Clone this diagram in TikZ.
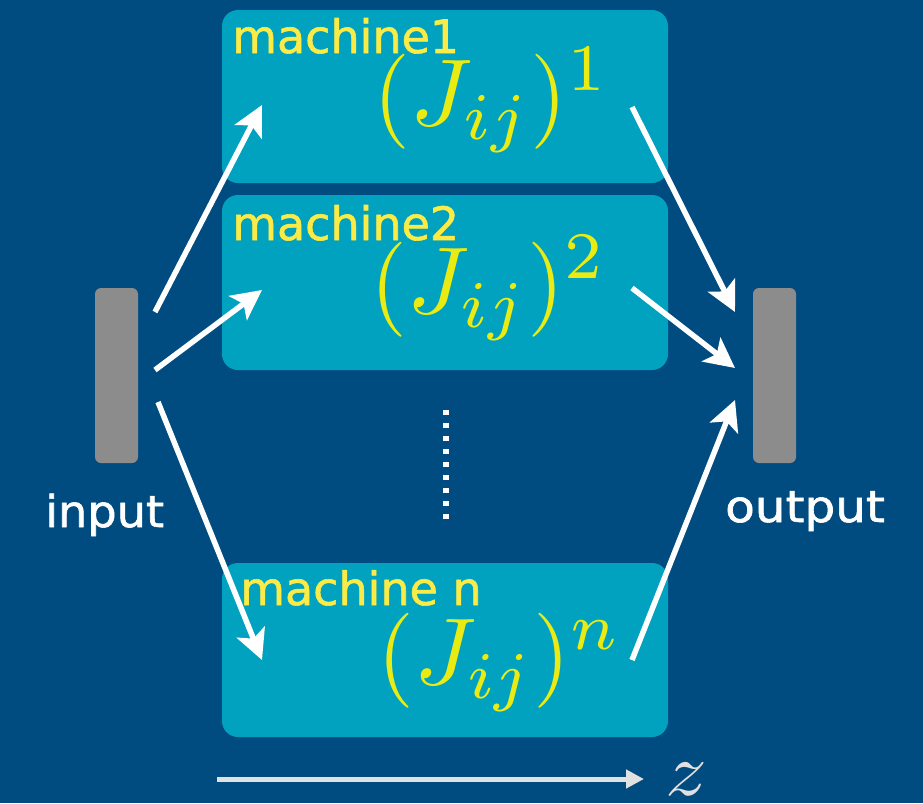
\documentclass[tikz,border=0pt]{standalone}
\usepackage{fontspec}
\setmainfont{DejaVu Sans}[FakeBold=1.3]
\usetikzlibrary{arrows.meta}
\definecolor{bgblue}{RGB}{0,76,128}
\definecolor{teal}{RGB}{0,162,192}
\definecolor{bargray}{RGB}{140,140,140}
\definecolor{ylw}{RGB}{250,235,70}
\definecolor{mathylw}{RGB}{235,235,20}
\definecolor{zarrow}{RGB}{225,225,225}
\tikzset{
  machinebox/.style={fill=teal, rounded corners=16pt, minimum width=446pt, inner sep=0pt},
  bar/.style={fill=bargray, rounded corners=6pt, minimum width=43pt, minimum height=175pt, inner sep=0pt},
  mlabel/.style={text=ylw, font=\fontsize{46}{50}\selectfont, inner sep=0pt, anchor=base west},
  iolabel/.style={text=white, font=\fontsize{44}{48}\selectfont, inner sep=0pt, anchor=base west},
  jmath/.style={text=mathylw, scale=9.5, inner sep=0pt},
  flow/.style={white, line width=5.5pt, -{Stealth[length=30pt,width=30pt,inset=7pt]}},
}
\begin{document}
\begin{tikzpicture}[x=1pt,y=-1pt]
\fill[bgblue] (0,0) rectangle (923,803);
\useasboundingbox (0,0) rectangle (923,803);
% boxes
\node[machinebox, minimum height=173pt] (m1) at (445,96.5) {};
\node[machinebox, minimum height=175pt] (m2) at (445,282.5) {};
\node[machinebox, minimum height=174pt] (mn) at (445,650) {};
\node[bar] (in) at (116.5,375.5) {};
\node[bar] (out) at (774.5,375.5) {};
% labels
\node[mlabel] (l1) at (232,53) {machine1};
\node[mlabel] (l2) at (232,240) {machine2};
\node[mlabel] (ln) at (240,605) {machine n};
\node[iolabel, xscale=1.05] (lin) at (45,527) {input};
\node[iolabel, xscale=1.1] (lout) at (725,522) {output};
% math
\node[jmath] (j1) at (492,100) {$(J_{ij})^1$};
\node[jmath] (j2) at (489,288) {$(J_{ij})^2$};
\node[jmath] (jn) at (500,662) {$(J_{ij})^n$};
% arrow endpoints
\coordinate (a1s) at (155,312);
\coordinate (a1e) at (262,105);
\coordinate (a2s) at (155,370);
\coordinate (a2e) at (262,290);
\coordinate (a3s) at (158,402);
\coordinate (a3e) at (262,660);
\coordinate (b1s) at (632,107);
\coordinate (b1e) at (735,312);
\coordinate (b2s) at (632,288);
\coordinate (b2e) at (735,368);
\coordinate (b3s) at (632,660);
\coordinate (b3e) at (735,400);
\draw[flow] (a1s) -- (a1e);
\draw[flow] (a2s) -- (a2e);
\draw[flow] (a3s) -- (a3e);
\draw[flow] (b1s) -- (b1e);
\draw[flow] (b2s) -- (b2e);
\draw[flow] (b3s) -- (b3e);
% dots
\coordinate (d1) at (446,410);
\coordinate (d2) at (446,522);
\draw[white, line width=6pt, dash pattern=on 5pt off 8pt] (d1) -- (d2);
% z axis
\coordinate (zs) at (217,779);
\coordinate (ze) at (644,779);
\draw[zarrow, line width=5pt, -{Triangle[length=18pt,width=18pt]}] (zs) -- (ze);
\node[text=zarrow, scale=7.5, xscale=1.1, inner sep=0pt, anchor=west] (zl) at (664,779) {$z$};
\end{tikzpicture}
\end{document}
